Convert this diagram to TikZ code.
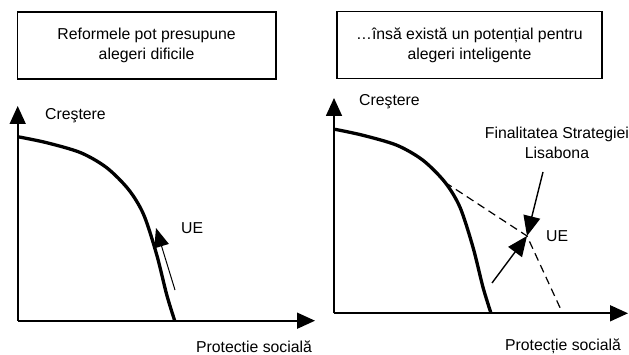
\documentclass[tikz,border=0pt]{standalone}
\usepackage{fontspec}
\setmainfont{Liberation Sans}
\usepackage{tikz}
\usepackage{xcolor}
\usetikzlibrary{
    arrows.meta,
    positioning,
    calc
}
\definecolor{ink}{HTML}{000000}
\tikzset{
    % Title box style
    panel box/.style={
        rectangle,
        minimum width=#1,
        minimum height=67pt,
        inner sep=0pt,
        align=center,
        font=\fontsize{15.8}{20}\selectfont,
        draw=ink,
        line width=1.3pt
    },
    % Axis style
    axis line/.style={
        -{Triangle[length=18pt, width=16pt]},
        line width=1.7pt,
        color=ink
    },
    % Frontier curve style
    frontier/.style={
        line width=3.3pt,
        color=ink
    },
    % Extended frontier
    frontier ext/.style={
        line width=1.2pt,
        dash pattern=on 8pt off 5pt,
        color=ink
    },
    % Arrow styles
    move/.style={
        -{Triangle[length=20pt, width=17pt]},
        line width=1.4pt,
        color=ink
    },
    thin move/.style={
        -{Triangle[length=19pt, width=15pt]},
        line width=1pt,
        color=ink
    },
    % Label style
    label text/.style={
        font=\fontsize{15.8}{20}\selectfont,
        text=ink,
        inner sep=0pt,
        align=center
    }
}

\begin{document}
\begin{tikzpicture}[x=1pt, y=-1pt]
        \useasboundingbox (0,0) rectangle (629,355);

        % Left panel
        \node[panel box=258.7pt] (boxL) at (146.6,45.5) {Reformele pot presupune\\alegeri dificile};
        \coordinate (oL) at (17.7,320.7);
        \coordinate (yL) at (17.7,106);
        \coordinate (xL) at (315,320.7);
        \draw[axis line] (oL) -- (yL);
        \draw[axis line] (oL) -- (xL);
        \node[label text, anchor=west] (growthL) at (45,116) {Creştere};
        \node[label text] (socialL) at (254,347) {Protectie socială};
        \draw[frontier] plot[smooth] coordinates {(17.7,136.7) (46.7,142.7) (80.7,152.7) (106.7,167.7) (128.7,189.7) (143.7,214.7) (156.7,254.7) (166.7,294.7) (174.7,320.7)};
        \coordinate (ueFromL) at (175,290);
        \coordinate (ueL) at (156,228);
        \draw[thin move] (ueFromL) -- (ueL);
        \node[label text, right=25pt of ueL, anchor=west] (ueTextL) {UE};

        % Right panel
        \node[panel box=265pt] (boxR) at (469.5,45) {…însă există un potențial pentru\\alegeri inteligente};
        \coordinate (oR) at (334,313.3);
        \coordinate (yR) at (334,98);
        \coordinate (xR) at (628,313.3);
        \draw[axis line] (oR) -- (yR);
        \draw[axis line] (oR) -- (xR);
        \node[label text, anchor=west] (growthR) at (359,102) {Creştere};
        \node[label text] (socialR) at (563,346) {Protecție socială};
        \draw[frontier] plot[smooth] coordinates {(335,129.3) (363,135.3) (397,145.3) (423,160.3) (445,182.3) (460,207.3) (473,247.3) (483,287.3) (491,313.3)};
        \coordinate (branch) at (445,182.3);
        \coordinate (goal) at (527,236);
        \coordinate (cut) at (562,312);
        \draw[frontier ext] (branch) -- (goal) -- (cut);
        \coordinate (ueFromR) at (492,283);
        \coordinate (lisbonFrom) at (543,172);
        \draw[move] (ueFromR) -- (goal);
        \draw[move] (lisbonFrom) -- (goal);
        \node[label text] (lisbon) at (557,143) {Finalitatea Strategiei\\Lisabona};
        \node[label text, right=19pt of goal, anchor=west] (ueTextR) {UE};

    \end{tikzpicture}
\end{document}
